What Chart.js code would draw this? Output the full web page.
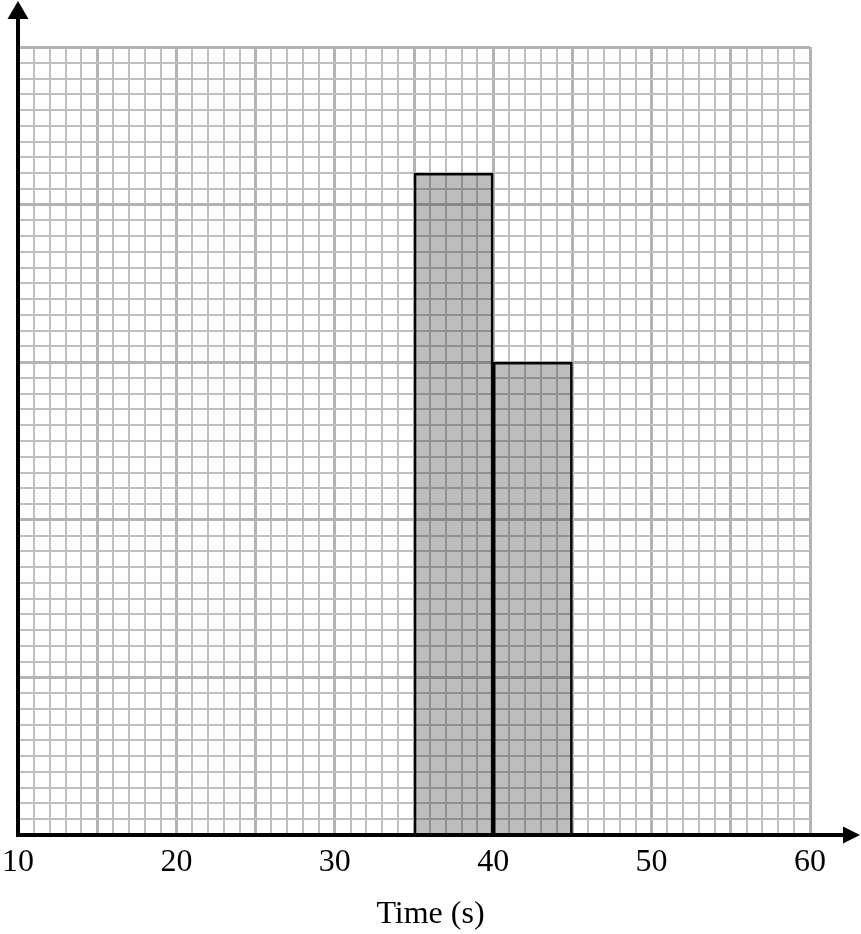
<!DOCTYPE html>
<html><head><meta charset="utf-8">
<script src="https://cdn.jsdelivr.net/npm/chart.js@4.4.1/dist/chart.umd.min.js"></script>
<style>html,body{margin:0;padding:0;background:#fff;}canvas{display:block}</style>
</head><body>
<canvas id="c" width="861" height="934"></canvas>
<script>
// ---- data ----
const binLabels = ['10–15','15–20','20–25','25–30','30–35','35–40','40–45','45–50','50–55','55–60'];
const frequencyDensity = [null, null, null, null, null, 42, 30, null, null, null];
const xTickLabels = [10, 20, 30, 40, 50, 60];
const xRange = [10, 60];
const yRange = [0, 50];
const xTitle = 'Time (s)';

// ---- styles ----
const MINOR = '#bfbfbf', MAJOR = '#b3b3b3', NONE = 'rgba(0,0,0,0)';

Chart.defaults.font.family = "'Liberation Serif', 'Times New Roman', serif";
Chart.defaults.color = '#000';

const arrowPlugin = {
  id: 'axisArrows',
  afterDraw(chart) {
    const {ctx, chartArea, scales} = chart;
    const x0 = scales.x.getPixelForValue(xRange[0]);
    const y0 = scales.y.getPixelForValue(yRange[0]);
    ctx.save();
    ctx.strokeStyle = '#000';
    ctx.fillStyle = '#000';
    ctx.lineWidth = 4;
    ctx.beginPath(); ctx.moveTo(x0, chartArea.bottom); ctx.lineTo(x0, 16); ctx.stroke();
    ctx.beginPath(); ctx.moveTo(x0, 1); ctx.lineTo(x0 - 10.5, 19); ctx.lineTo(x0 + 10.5, 19); ctx.closePath(); ctx.fill();
    ctx.beginPath(); ctx.moveTo(x0, y0); ctx.lineTo(846, y0); ctx.stroke();
    ctx.beginPath(); ctx.moveTo(860, y0); ctx.lineTo(843, y0 - 8.5); ctx.lineTo(843, y0 + 8.5); ctx.closePath(); ctx.fill();
    ctx.restore();
  }
};

new Chart(document.getElementById('c'), {
  type: 'bar',
  data: {
    labels: binLabels,
    datasets: [{
      data: frequencyDensity,
      xAxisID: 'xb',
      yAxisID: 'y',
      backgroundColor: 'rgba(50,50,50,0.32)',
      borderColor: '#000',
      borderWidth: 2,
      borderSkipped: 'bottom',
      categoryPercentage: 1,
      barPercentage: 1
    }]
  },
  options: {
    responsive: false,
    animation: false,
    devicePixelRatio: 1,
    layout: { padding: { left: 0, right: 0, top: 47, bottom: 0 } },
    plugins: {
      legend: { display: false },
      tooltip: { enabled: false },
      title: {
        display: true,
        position: 'bottom',
        text: xTitle,
        color: '#000',
        font: { size: 32, weight: 'normal' },
        padding: { top: 4.6, bottom: 0 }
      }
    },
    scales: {
      xb: { type: 'category', display: false, offset: true, labels: binLabels },
      x: {
        type: 'linear',
        position: 'bottom',
        offset: false,
        min: xRange[0], max: xRange[1],
        afterFit: s => { s.paddingLeft = 0; s.paddingRight = 0; },
        ticks: {
          stepSize: 1,
          autoSkip: false,
          maxRotation: 0,
          padding: 8.8,
          font: { size: 32 },
          color: '#000',
          callback: v => xTickLabels.includes(v) ? String(v) : ''
        },
        grid: {
          offset: false,
          drawTicks: false,
          color: c => (c.tick && c.tick.value === xRange[0]) ? NONE : (c.tick && c.tick.value % 5 === 0 ? MAJOR : MINOR),
          lineWidth: c => (c.tick && c.tick.value % 5 === 0) ? 3 : 2
        },
        border: { color: '#000', width: 4 }
      },
      y: {
        type: 'linear',
        position: 'left',
        min: yRange[0], max: yRange[1],
        afterFit: s => { s.width = 18; },
        ticks: { display: false, stepSize: 1 },
        grid: {
          drawTicks: false,
          color: c => (c.tick && c.tick.value === yRange[0]) ? NONE : (c.tick && c.tick.value % 10 === 0 ? MAJOR : MINOR),
          lineWidth: c => (c.tick && c.tick.value % 10 === 0) ? 3 : 2
        },
        border: { color: '#000', width: 4 }
      },
      yRight: {
        type: 'linear',
        position: 'right',
        min: yRange[0], max: yRange[1],
        afterFit: s => { s.width = 51; },
        ticks: { display: false },
        grid: { display: false, drawTicks: false },
        border: { display: false }
      }
    }
  },
  plugins: [arrowPlugin]
});
</script>
</body></html>
